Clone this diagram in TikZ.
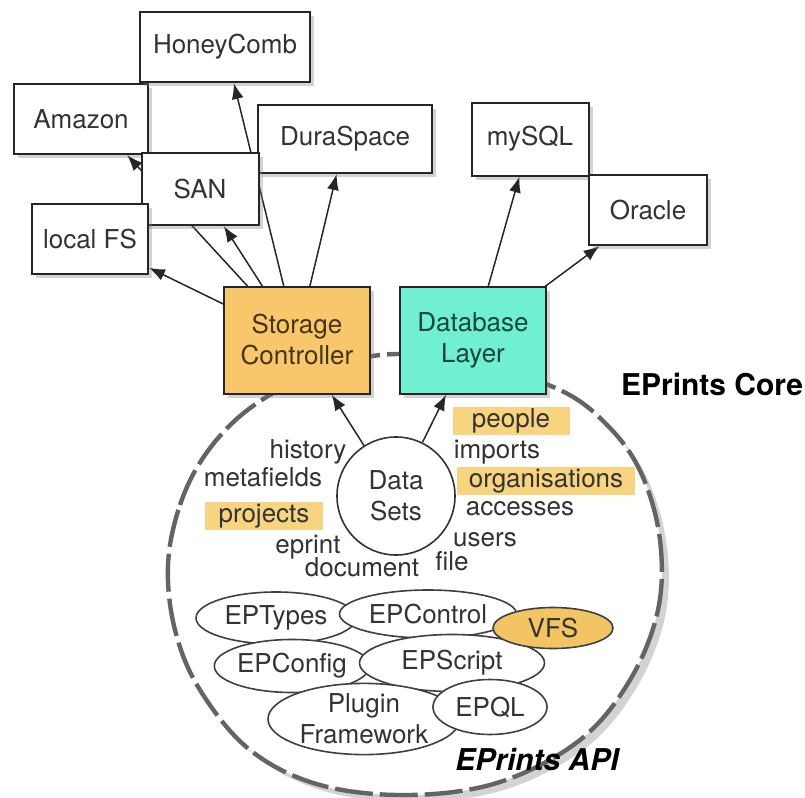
\documentclass[tikz,border=0pt]{standalone}
\usepackage{fontspec}
\setmainfont{TeX Gyre Heros}
\usepackage{tikz}
\usetikzlibrary{arrows.meta, shapes.geometric, shadows}
\definecolor{store_orange}{RGB}{248, 199, 108}
\definecolor{db_teal}{RGB}{112, 240, 208}
\definecolor{mark_orange}{RGB}{249, 212, 128}
\definecolor{vfs_orange}{RGB}{242, 196, 100}
\definecolor{core_grey}{RGB}{100, 100, 100}
\pgfdeclarelayer{back}
\pgfdeclarelayer{links}
\pgfsetlayers{back,links,main}

\begin{document}
\begin{tikzpicture}[x=0.5pt, y=-0.5pt, >={Latex[length=8pt, width=6pt]},
      font=\fontsize{13}{15.5}\selectfont, text=black!80,
      backend/.style={draw=black!85, line width=1pt, fill=white, minimum height=35pt, inner sep=2pt,
        drop shadow={opacity=0.35, shadow xshift=2pt, shadow yshift=-2pt}},
      layer/.style={backend, align=center, minimum width=73pt, minimum height=53.5pt},
      link/.style={->, line width=0.75pt, black!85},
      field/.style={inner sep=0pt, text height=9.5pt, text depth=2.7pt},
      tag/.style={field, fill=mark_orange, minimum height=14pt},
      module/.style={ellipse, draw=black!75, line width=0.8pt, fill=white, inner sep=0pt, align=center},
      title/.style={font=\fontsize{15}{18}\selectfont\bfseries, text=black}]
    \useasboundingbox (0,0) rectangle (805,798);
    % storage back ends
    \node[backend, minimum width=67pt] (amz) at (81,119) {Amazon};
    \node[backend, minimum width=85pt] (hcomb) at (225,47) {HoneyComb};
    \node[backend, minimum width=87pt, minimum height=34pt] (dura) at (345,139) {DuraSpace};
    \node[backend, minimum width=58.5pt, minimum height=36pt] (san) at (200,189) {SAN};
    \node[backend, minimum width=58pt] (lfs) at (90,239) {local FS};
    % database back ends
    \node[backend, minimum width=58.5pt, minimum height=36.5pt] (mysql) at (530,139) {mySQL};
    \node[backend, minimum width=59pt] (oracle) at (648,210) {Oracle};
    % core layers
    \node[layer, fill=store_orange, text={rgb,255:red,70;green,52;blue,20}] (sc) at (297,340) {Storage\\Controller};
    \node[layer, fill=db_teal, text={rgb,255:red,20;green,72;blue,62}] (db) at (473,340) {Database\\Layer};
    \node[title] (core) at (712,385) {EPrints Core};
    % data sets
    \node[circle, draw=black!80, line width=0.8pt, fill=white, minimum size=59pt, inner sep=0pt, align=center] (sets) at (396,496) {Data\\Sets};
    \node[field] (history) at (308,452) {history};
    \node[field] (metafields) at (263,480) {metafields};
    \node[tag, minimum width=59pt] (projects) at (264,516) {projects};
    \node[field] (eprint) at (308,547) {eprint};
    \node[field] (document) at (362,570) {document};
    \node[field] (file) at (452,564) {file};
    \node[tag, minimum width=58.5pt] (people) at (511,421) {people};
    \node[field] (imports) at (497,452) {imports};
    \node[tag, minimum width=89pt] (orgs) at (546,481) {organisations};
    \node[field] (accesses) at (520,509) {accesses};
    \node[field] (users) at (485,540) {users};
    % API modules
    \node[module, minimum width=80pt, minimum height=26pt] (eptypes) at (276,618) {EPTypes};
    \node[module, minimum width=88.5pt, minimum height=24pt] (epcontrol) at (428,614) {EPControl};
    \node[module, minimum width=71.5pt, minimum height=26.5pt] (epconfig) at (292,666) {EPConfig};
    \node[module, minimum width=92.5pt, minimum height=28.5pt] (epscript) at (452,663) {EPScript};
    \node[module, fill=vfs_orange, minimum width=60pt, minimum height=20.5pt] (vfs) at (553,628) {VFS};
    \node[module, minimum width=96pt, minimum height=34pt] (plugin) at (364,719) {Plugin\\Framework};
    \node[module, minimum width=57pt, minimum height=27.5pt] (epql) at (490,707) {EPQL};
    \node[title, font=\fontsize{15}{18}\selectfont\bfseries\itshape] (api) at (537,760) {EPrints API};
    % core outline
    \begin{pgfonlayer}{back}
      \draw[core_grey, line width=2.2pt, dash pattern=on 19pt off 3.5pt, fill=white,
        drop shadow={opacity=0.35, shadow xshift=3.5pt, shadow yshift=-3.5pt}]
        plot[smooth cycle, tension=0.6] coordinates {(168,565) (180,505) (205,455) (245,412) (300,380)
          (380,355) (470,362) (560,390) (610,428) (642,475) (660,540) (658,610) (630,680) (580,740)
          (500,782) (410,795) (320,785) (250,750) (200,690) (175,630)};
    \end{pgfonlayer}
    \begin{pgfonlayer}{links}
      \draw[link] (sc.center) -- (lfs);
      \draw[link] (sc.center) -- (san);
      \draw[link] (sc.center) -- (amz.-38);
      \draw[link] (sc.center) -- (hcomb);
      \draw[link] (sc.center) -- (dura);
      \draw[link] (db.center) -- (mysql);
      \draw[link] (db.center) -- (oracle);
      \draw[link] (sets) -- (sc);
      \draw[link] (sets) -- (db);
    \end{pgfonlayer}
  \end{tikzpicture}
\end{document}
